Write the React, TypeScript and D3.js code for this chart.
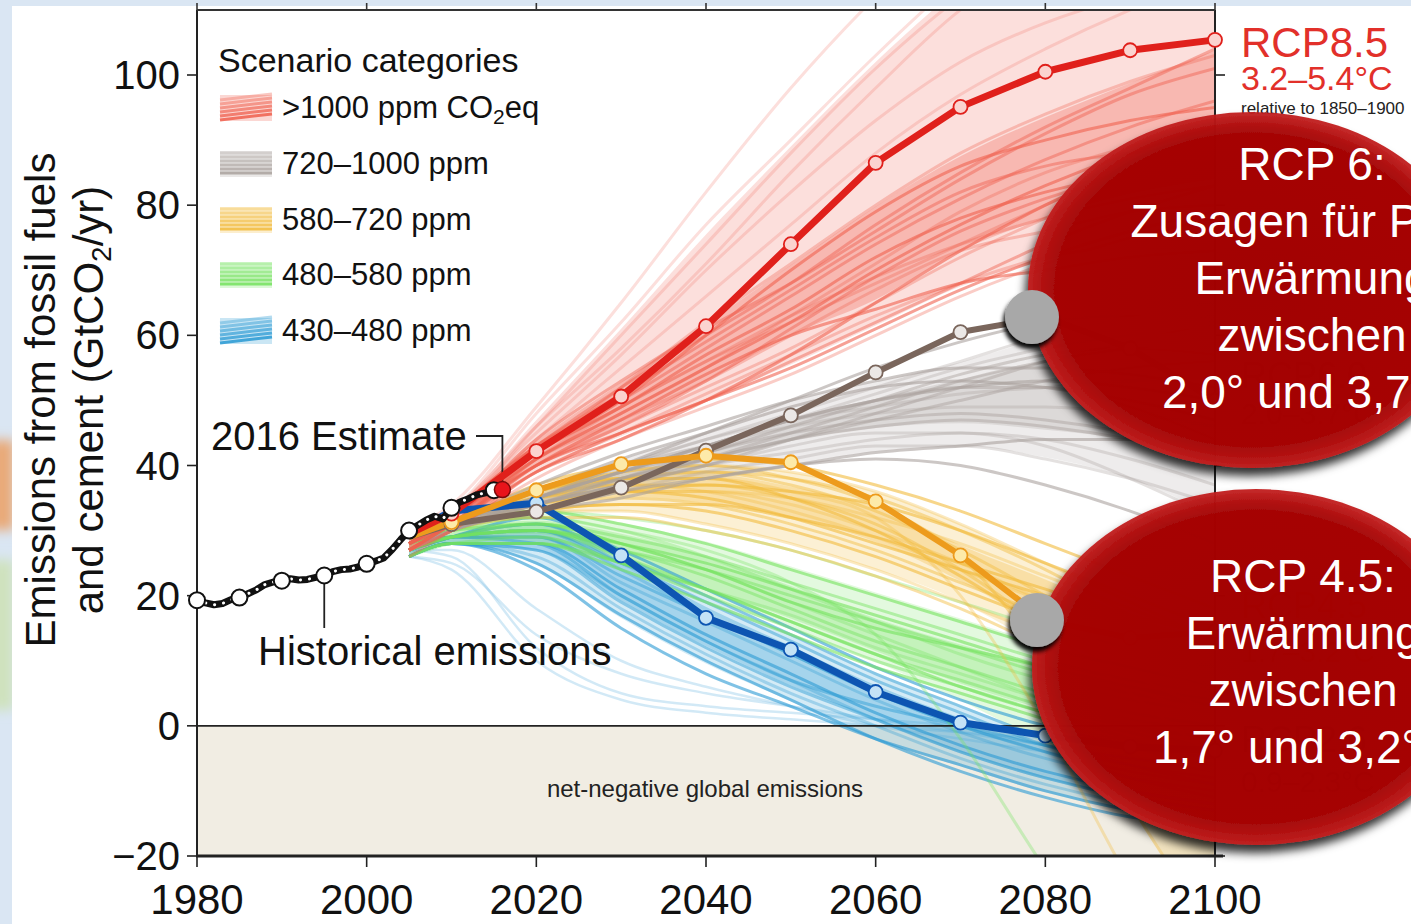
import React from 'react';
import * as d3 from 'd3';

const W = 1411;
const H = 924;
const FONT = '"Liberation Sans", Arial, Helvetica, sans-serif';

// ---------- data ----------
const xTicks = [1980, 2000, 2020, 2040, 2060, 2080, 2100];
const yTicks = [-20, 0, 20, 40, 60, 80, 100];

const histYears = [1980, 1981, 1982, 1983, 1984, 1985, 1986, 1987, 1988, 1989, 1990, 1991, 1992, 1993, 1994, 1995, 1996, 1997, 1998, 1999, 2000, 2001, 2002, 2003, 2004, 2005, 2006, 2007, 2008, 2009, 2010, 2011, 2012, 2013, 2014, 2015, 2016];
const histValues = [19.3, 18.9, 18.6, 18.8, 19.4, 19.7, 20.3, 20.9, 21.7, 22.1, 22.3, 22.6, 22.4, 22.5, 22.8, 23.1, 23.7, 24.0, 24.1, 24.4, 24.9, 25.3, 25.8, 27.1, 28.6, 30.0, 30.8, 31.6, 32.2, 31.8, 33.5, 34.4, 34.9, 35.5, 35.8, 36.2, 36.3];
const histMarkerYears = [1980, 1985, 1990, 1995, 2000, 2005, 2010, 2015];
const estimateYear = 2016;
const estimateValue = 36.3;

const scenYears = [2005, 2010, 2020, 2030, 2040, 2050, 2060, 2070, 2080, 2090, 2100];

// highlighted RCP pathways
const rcp85 = [29.5, 32.6, 42.2, 50.6, 61.4, 74.0, 86.5, 95.1, 100.5, 103.8, 105.4];
const rcp60 = [29.0, 31.0, 32.9, 36.6, 42.3, 47.7, 54.3, 60.5, 62.8, 58.0, 50.0];
const rcp45 = [29.0, 31.3, 36.2, 40.2, 41.5, 40.5, 34.5, 26.2, 16.2, 13.5, 14.5];
const rcp26 = [29.5, 33.0, 34.2, 26.2, 16.6, 11.7, 5.2, 0.5, -1.5, -3.2, -3.8];

// scenario ensemble runs (>1000 ppm)
const redRuns = [
  [29, 33, 44, 55, 66, 77, 88, 97, 104, 110, 115],
  [28, 32, 46, 60, 74, 88, 101, 112, 120, 126, 130],
  [30, 34, 49, 65, 82, 98, 112, 124, 132, 138, 142],
  [27, 31, 42, 52, 62, 71, 80, 88, 94, 99, 103],
  [29, 33, 43, 50, 58, 66, 74, 81, 87, 92, 96],
  [28, 32, 41, 48, 55, 62, 70, 77, 83, 88, 92],
  [27, 31, 40, 46, 52, 58, 65, 72, 78, 84, 90],
  [28, 31, 39, 45, 50, 56, 62, 68, 74, 79, 83],
  [29, 33, 42, 49, 57, 64, 72, 78, 82, 85, 87],
  [26, 30, 38, 44, 49, 54, 60, 66, 71, 75, 78],
  [28, 32, 44, 53, 61, 68, 76, 84, 91, 97, 101],
  [29, 33, 45, 57, 70, 82, 93, 102, 108, 112, 114],
  [27, 31, 41, 47, 53, 60, 67, 73, 76, 79, 80],
  [28, 32, 43, 51, 59, 67, 75, 82, 86, 88, 89],
  [28, 31, 40, 47, 54, 60, 64, 68, 70, 72, 73],
  [27, 31, 39, 45, 51, 57, 63, 68, 72, 74, 76],
  [29, 33, 48, 62, 77, 90, 103, 115, 125, 132, 136],
  [28, 32, 42, 50, 60, 70, 79, 86, 90, 93, 95],
  [27, 31, 41, 49, 56, 63, 69, 74, 78, 81, 83],
  [28, 32, 40, 46, 53, 61, 69, 76, 81, 85, 88],
  [27, 30, 39, 44, 50, 57, 65, 73, 80, 86, 91],
  [28, 31, 41, 48, 55, 63, 71, 79, 85, 89, 92],
  [29, 33, 43, 52, 60, 68, 77, 85, 92, 98, 104],
  [27, 31, 40, 45, 50, 55, 61, 67, 72, 76, 79],
  [28, 32, 42, 49, 56, 62, 68, 74, 80, 86, 92],
  [29, 33, 46, 58, 71, 85, 98, 110, 118, 124, 128],
];
// 720-1000 ppm
const grayRuns = [
  [28, 31, 35, 39, 43, 47, 51, 55, 58, 60, 61],
  [28, 31, 34, 37, 40, 44, 48, 52, 56, 59, 62],
  [27, 30, 35, 40, 45, 50, 55, 59, 62, 63, 63],
  [28, 31, 36, 40, 43, 46, 48, 49, 49, 48, 46],
  [27, 30, 34, 38, 41, 44, 46, 47, 46, 44, 41],
  [28, 31, 36, 41, 45, 49, 52, 53, 52, 50, 47],
  [27, 30, 33, 36, 39, 41, 43, 43, 41, 38, 34],
  [28, 31, 35, 39, 42, 46, 50, 54, 57, 58, 57],
  [28, 31, 37, 42, 46, 50, 53, 55, 55, 54, 52],
  [27, 30, 34, 37, 40, 42, 44, 45, 44, 41, 37],
  [28, 31, 35, 38, 41, 44, 47, 50, 53, 55, 56],
  [27, 30, 33, 35, 38, 40, 41, 40, 37, 33, 28],
  [28, 31, 36, 40, 44, 48, 52, 56, 60, 63, 65],
  [28, 31, 34, 38, 42, 45, 47, 48, 47, 45, 42],
  [27, 30, 35, 39, 43, 47, 50, 52, 53, 52, 50],
  [27, 30, 34, 37, 40, 43, 45, 45, 43, 38, 32],
  [28, 31, 35, 39, 43, 47, 50, 52, 52, 49, 44],
  [27, 30, 33, 36, 38, 40, 42, 43, 44, 44, 43],
  [28, 31, 36, 40, 44, 47, 49, 51, 52, 53, 54],
  [27, 30, 34, 37, 41, 45, 49, 53, 56, 58, 59],
];
// 580-720 ppm
const yellowRuns = [
  [28, 31, 36, 39, 40, 39, 36, 31, 25, 19, 13],
  [27, 30, 35, 38, 39, 37, 33, 27, 20, 13, 7],
  [28, 31, 37, 40, 41, 40, 37, 33, 28, 23, 18],
  [27, 30, 34, 36, 36, 34, 30, 25, 19, 13, 8],
  [28, 31, 35, 37, 37, 35, 31, 24, 15, 5, -5],
  [27, 30, 33, 34, 33, 30, 26, 21, 16, 11, 6],
  [28, 31, 36, 38, 38, 36, 32, 20, 0, -24, -45],
  [27, 30, 34, 35, 34, 31, 27, 22, 17, 12, 8],
  [28, 31, 35, 36, 35, 32, 28, 24, 20, 16, 12],
  [27, 30, 33, 33, 31, 28, 24, 19, 14, 10, 5],
  [28, 31, 36, 39, 40, 38, 34, 26, 10, -12, -32],
  [27, 30, 34, 36, 37, 36, 34, 30, 25, 20, 15],
  [28, 31, 35, 37, 36, 33, 29, 24, 19, 14, 10],
  [27, 30, 32, 32, 30, 27, 23, 18, 12, 6, 1],
  [28, 31, 36, 38, 38, 35, 30, 23, 15, 8, 2],
  [27, 30, 34, 36, 36, 35, 32, 28, 23, 18, 13],
  [28, 31, 36, 38, 39, 38, 35, 30, 24, 17, 10],
  [27, 30, 33, 34, 34, 32, 29, 25, 21, 17, 14],
];
// 480-580 ppm
const greenRuns = [
  [27, 30, 32, 30, 26, 21, 16, 11, 7, 4, 2],
  [27, 29, 30, 27, 23, 18, 13, 9, 5, 2, 0],
  [28, 30, 33, 31, 28, 24, 20, 16, 12, 9, 6],
  [27, 29, 31, 28, 24, 19, 14, 9, 4, 0, -4],
  [26, 28, 29, 25, 20, 15, 10, 6, 2, -2, -6],
  [27, 29, 30, 28, 25, 21, 17, 13, 9, 6, 3],
  [28, 30, 32, 30, 27, 22, 14, -2, -22, -40, -55],
  [27, 29, 31, 29, 26, 22, 18, 14, 10, 7, 5],
  [26, 28, 28, 24, 19, 14, 9, 5, 1, -3, -7],
  [27, 30, 33, 32, 30, 27, 23, 19, 15, 12, 9],
  [27, 29, 30, 26, 21, 16, 11, 7, 3, 0, -2],
  [28, 30, 31, 28, 24, 19, 15, 12, 9, 6, 4],
  [27, 29, 29, 25, 21, 17, 12, 8, 4, 1, -1],
  [27, 29, 30, 27, 24, 20, 16, 12, 8, 5, 3],
  [26, 28, 28, 25, 21, 16, 11, 6, 2, -1, -4],
];
// 430-480 ppm
const blueRuns = [
  [27, 29, 30, 24, 17, 11, 5, 0, -4, -7, -9],
  [27, 29, 31, 26, 20, 14, 8, 3, -2, -6, -9],
  [26, 28, 28, 21, 14, 8, 2, -3, -7, -10, -12],
  [27, 29, 29, 22, 16, 10, 4, -1, -5, -8, -10],
  [26, 28, 27, 19, 12, 6, 1, -4, -8, -11, -13],
  [27, 29, 32, 27, 21, 15, 9, 4, 0, -3, -5],
  [26, 28, 26, 18, 11, 5, 0, -5, -9, -12, -14],
  [27, 29, 30, 25, 19, 13, 7, 2, -3, -6, -8],
  [26, 28, 25, 17, 10, 4, -2, -7, -11, -14, -15],
  [27, 29, 31, 25, 18, 12, 6, 1, -3, -5, -6],
  [27, 29, 28, 20, 13, 7, 3, 0, -3, -5, -7],
  [26, 28, 24, 15, 8, 3, -2, -6, -10, -13, -15],
  [26, 28, 27, 20, 13, 7, 1, -4, -8, -11, -13],
  [27, 29, 29, 23, 17, 11, 5, 0, -4, -8, -11],
];
// faint early-decline runs (430-480 ppm)
const paleBlueRuns = [
  [27, 26, 12, 5, 3, 2, 1, 0, -1, -2, -3],
  [26, 24, 10, 4, 2, 1, 0, -1, -2, -3, -4],
  [26, 25, 14, 8, 5, 3, 1, -1, -3, -5, -6],
  [27, 27, 18, 10, 6, 3, 0, -2, -4, -6, -8],
];

const categories = ['>1000 ppm CO2eq', '720–1000 ppm', '580–720 ppm', '480–580 ppm', '430–480 ppm'];
const categoryColors = ['#f0604e', '#aaa29e', '#f2bb3c', '#74e25e', '#2a9ad4'];

// ---------- scales ----------
const x = d3.scaleLinear().domain([1980, 2100]).range([197, 1215]);
const y = d3.scaleLinear().domain([-20, 100]).range([856, 75]);
const PLOT_TOP = 10;

const runLine = d3
  .line<number>()
  .x((_, i) => x(scenYears[i]))
  .y((d) => y(d))
  .curve(d3.curveMonotoneX);

const straight = d3
  .line<number>()
  .x((_, i) => x(scenYears[i]))
  .y((d) => y(d));

const histLine = d3
  .line<number>()
  .x((_, i) => x(histYears[i]))
  .y((d) => y(d));

function band(runs: number[][], qa: number, qb: number) {
  const col = (i: number) => runs.map((r) => r[i]).sort(d3.ascending);
  const lo = scenYears.map((_, i) => d3.quantile(col(i), qa) as number);
  const hi = scenYears.map((_, i) => d3.quantile(col(i), qb) as number);
  return d3
    .area<number>()
    .x((_, i) => x(scenYears[i]))
    .y0((_, i) => y(lo[i]))
    .y1((_, i) => y(hi[i]))
    .curve(d3.curveMonotoneX)(scenYears);
}

const ensembles = [
  { runs: blueRuns, color: categoryColors[4], a: 0.2, b: 0.28 },
  { runs: greenRuns, color: categoryColors[3], a: 0.2, b: 0.28 },
  { runs: yellowRuns, color: categoryColors[2], a: 0.22, b: 0.3 },
  { runs: grayRuns, color: categoryColors[1], a: 0.2, b: 0.26 },
  { runs: redRuns, color: categoryColors[0], a: 0.2, b: 0.3 },
];

const pathways = [
  { v: rcp26, color: '#0d55b2', fill: '#c3e2f6', w: 7 },
  { v: rcp60, color: '#7a665c', fill: '#ebe8e6', w: 6 },
  { v: rcp45, color: '#ed9b1c', fill: '#fdeaa9', w: 6 },
  { v: rcp85, color: '#e0201b', fill: '#fbd3cf', w: 7 },
];

// runs well above the RCP8.5 marker line are drawn fainter
function runOpacity(run: number[], i: number, k: number) {
  const base = 0.32 + 0.14 * (i % 3);
  if (k === 4 && run[6] > rcp85[6]) return 0.2;
  return base;
}

export default function App() {
  const xa = x(1980);
  const xb = x(2100);
  const yb = y(-20);
  const legendY = [108, 164, 220, 275, 331];
  const legendBase = [118, 174, 230, 285, 341];
  const swatchLines = [-11, -7, -3, 1, 5, 9];

  return (
    <svg
      width={W}
      height={H}
      style={{ position: 'absolute', left: 0, top: 0, fontFamily: FONT }}
      xmlns="http://www.w3.org/2000/svg"
    >
      <defs>
        <clipPath id="plotClip">
          <rect x={xa} y={PLOT_TOP} width={xb - xa} height={yb - PLOT_TOP} />
        </clipPath>
        <filter id="ovalShadow" x="-20%" y="-20%" width="140%" height="150%">
          <feDropShadow dx="-3" dy="8" stdDeviation="5" floodColor="#000" floodOpacity="0.85" />
        </filter>
        <filter id="dotShadow" x="-50%" y="-50%" width="200%" height="200%">
          <feDropShadow dx="-2" dy="5" stdDeviation="2" floodColor="#000" floodOpacity="0.95" />
        </filter>
        <filter id="blur8">
          <feGaussianBlur stdDeviation="6" />
        </filter>
        <radialGradient id="ovalGrad" cx="50%" cy="50%" r="50%">
          <stop offset="0%" stopColor="#a40404" />
          <stop offset="88%" stopColor="#a80606" />
          <stop offset="100%" stopColor="#c21e1e" />
        </radialGradient>
      </defs>

      {/* page background */}
      <rect x={0} y={0} width={W} height={H} fill="#dae6f3" />
      <g filter="url(#blur8)">
        <rect x={-10} y={440} width={24} height={90} fill="#e9a977" />
        <rect x={-10} y={560} width={24} height={150} fill="#cfe2bd" />
      </g>
      <rect x={12} y={6} width={W - 12} height={H - 6} fill="#ffffff" />

      {/* negative region */}
      <rect x={xa} y={y(0)} width={xb - xa} height={yb - y(0)} fill="#f1ede3" />

      {/* ensembles */}
      <g clipPath="url(#plotClip)">
        {paleBlueRuns.map((r, i) => (
          <path key={'pb' + i} d={runLine(r) || ''} fill="none" stroke="#7fbfe6" strokeWidth={2.5} opacity={0.35} />
        ))}
        {ensembles.map((e, k) => (
          <g key={'b' + k}>
            <path d={band(e.runs, 0.06, 0.94) || ''} fill={e.color} opacity={e.a} />
            <path d={band(e.runs, 0.25, 0.75) || ''} fill={e.color} opacity={e.b} />
          </g>
        ))}
        {ensembles.map((e, k) => (
          <g key={'e' + k}>
            {e.runs.map((r, i) => (
              <path
                key={i}
                d={runLine(r) || ''}
                fill="none"
                stroke={e.color}
                strokeWidth={3}
                opacity={runOpacity(r, i, k)}
              />
            ))}
          </g>
        ))}
      </g>

      {/* zero line */}
      <line x1={xa} x2={xb} y1={y(0)} y2={y(0)} stroke="#222" strokeWidth={1.6} />

      {/* axes frame */}
      <line x1={xa} x2={xa} y1={PLOT_TOP} y2={yb} stroke="#222" strokeWidth={2} />
      <line x1={xb} x2={xb} y1={PLOT_TOP} y2={yb} stroke="#222" strokeWidth={2} />
      <line x1={xa} x2={xb} y1={PLOT_TOP} y2={PLOT_TOP} stroke="#333" strokeWidth={2} />
      <line x1={xa - 1} x2={xb + 8} y1={yb} y2={yb} stroke="#222" strokeWidth={3} />
      {yTicks.map((t) => (
        <g key={'yt' + t}>
          <line x1={xa - 10} x2={xa} y1={y(t)} y2={y(t)} stroke="#222" strokeWidth={1.6} />
          <line x1={xb} x2={xb + 10} y1={y(t)} y2={y(t)} stroke="#222" strokeWidth={1.6} />
          <text x={180} y={y(t) + 14} textAnchor="end" fontSize={40} fill="#111">
            {t < 0 ? '\u2212' + Math.abs(t) : t}
          </text>
        </g>
      ))}
      {xTicks.map((t) => (
        <g key={'xt' + t}>
          <line x1={x(t)} x2={x(t)} y1={yb} y2={yb + 11} stroke="#222" strokeWidth={1.6} />
          <line x1={x(t)} x2={x(t)} y1={PLOT_TOP - 7} y2={PLOT_TOP} stroke="#333" strokeWidth={1.6} />
          <text x={x(t)} y={914} textAnchor="middle" fontSize={42} fill="#111">
            {t}
          </text>
        </g>
      ))}

      {/* y axis title */}
      <text transform="translate(55,400) rotate(-90)" textAnchor="middle" fontSize={42} fill="#111">
        Emissions from fossil fuels
      </text>
      <text transform="translate(103,400) rotate(-90)" textAnchor="middle" fontSize={42} fill="#111">
        and cement (GtCO<tspan fontSize={28} dy={8}>2</tspan>
        <tspan dy={-8}>/yr)</tspan>
      </text>

      {/* legend */}
      <text x={218} y={72} fontSize={34} fill="#111">
        Scenario categories
      </text>
      {categories.map((c, i) => (
        <g key={'lg' + i}>
          <rect x={220} y={legendY[i] - 13} width={52} height={26} fill={categoryColors[i]} opacity={0.25} />
          {swatchLines.map((o, j) => (
            <line
              key={j}
              x1={220}
              x2={272}
              y1={legendY[i] + o + (i === 0 || i === 4 ? 3 : 0)}
              y2={legendY[i] + o - (i === 0 || i === 4 ? 3 : 0)}
              stroke={categoryColors[i]}
              strokeWidth={3}
              opacity={0.35 + 0.1 * j}
            />
          ))}
          <text x={282} y={legendBase[i]} fontSize={31} fill="#111">
            {i === 0 ? (
              <>
                {'>1000 ppm CO'}
                <tspan fontSize={21} dy={6}>
                  2
                </tspan>
                <tspan dy={-6}>eq</tspan>
              </>
            ) : (
              c
            )}
          </text>
        </g>
      ))}

      {/* annotations */}
      <text x={211} y={450} fontSize={40} fill="#111">
        2016 Estimate
      </text>
      <polyline
        points={`476,436 ${x(estimateYear)},436 ${x(estimateYear)},${y(estimateValue) - 7}`}
        fill="none"
        stroke="#222"
        strokeWidth={1.8}
      />
      <text x={258} y={665} fontSize={40} fill="#111">
        Historical emissions
      </text>
      <line x1={x(1995)} x2={x(1995)} y1={y(23.1) + 8} y2={628} stroke="#222" strokeWidth={1.8} />
      <text x={705} y={797} textAnchor="middle" fontSize={24} fill="#222">
        net-negative global emissions
      </text>

      {/* RCP pathways */}
      {pathways.map((p, k) => (
        <path key={'p' + k} d={straight(p.v) || ''} fill="none" stroke={p.color} strokeWidth={p.w} strokeLinejoin="round" />
      ))}
      {pathways.map((p, k) => (
        <g key={'pm' + k}>
          {p.v.map((v, i) =>
            i === 0 ? null : (
              <circle key={i} cx={x(scenYears[i])} cy={y(v)} r={7} fill={p.fill} stroke={p.color} strokeWidth={1.8} />
            )
          )}
        </g>
      ))}

      {/* historical */}
      <path d={histLine(histValues) || ''} fill="none" stroke="#111" strokeWidth={7} strokeLinejoin="round" />
      <path
        d={histLine(histValues) || ''}
        fill="none"
        stroke="#fff"
        strokeWidth={3}
        strokeLinecap="round"
        strokeDasharray="0.1 9"
      />
      {histMarkerYears.map((yr) => (
        <circle
          key={'hm' + yr}
          cx={x(yr)}
          cy={y(histValues[histYears.indexOf(yr)])}
          r={8}
          fill="#fff"
          stroke="#111"
          strokeWidth={2}
        />
      ))}
      <circle cx={x(estimateYear)} cy={y(estimateValue)} r={8} fill="#e8141b" stroke="#7a0a0a" strokeWidth={1.5} />

      {/* RCP labels at right */}
      <text x={1241} y={57} fontSize={42} fill="#e2302a">
        RCP8.5
      </text>
      <text x={1241} y={90} fontSize={34} fill="#e2302a">
        3.2–5.4°C
      </text>
      <text x={1241} y={114} fontSize={17} fill="#222">
        relative to 1850–1900
      </text>
      <g opacity={0.9}>
        <text x={1241} y={388} fontSize={36} fill="#7a665c">
          RCP6.0
        </text>
        <text x={1241} y={424} fontSize={30} fill="#7a665c">
          2.0–3.7°C
        </text>
        <text x={1241} y={618} fontSize={36} fill="#ed9b1c">
          RCP4.5
        </text>
        <text x={1241} y={662} fontSize={30} fill="#ed9b1c">
          1.7–3.2°C
        </text>
        <text x={1241} y={752} fontSize={36} fill="#0d55b2">
          RCP2.6
        </text>
        <text x={1241} y={792} fontSize={30} fill="#0d55b2">
          0.9–2.3°C
        </text>
      </g>

      {/* callout ovals */}
      <g filter="url(#ovalShadow)">
        <ellipse cx={1252} cy={290} rx={224} ry={178} fill="url(#ovalGrad)" opacity={0.95} />
      </g>
      <g filter="url(#ovalShadow)">
        <ellipse cx={1256} cy={667} rx={224} ry={178} fill="url(#ovalGrad)" opacity={0.95} />
      </g>
      <g fill="#fff" fontSize={46} textAnchor="middle">
        <text x={1312} y={180}>RCP 6:</text>
        <text x={1312} y={237}>Zusagen für Paris</text>
        <text x={1312} y={294}>Erwärmung</text>
        <text x={1312} y={351}>zwischen</text>
        <text x={1312} y={408}>2,0° und 3,7°C</text>
        <text x={1303} y={592}>RCP 4.5:</text>
        <text x={1303} y={649}>Erwärmung</text>
        <text x={1303} y={706}>zwischen</text>
        <text x={1303} y={763}>1,7° und 3,2°C</text>
      </g>
      <circle cx={1032} cy={317} r={27} fill="#a8a8a8" filter="url(#dotShadow)" />
      <circle cx={1037} cy={620} r={27} fill="#a8a8a8" filter="url(#dotShadow)" />
    </svg>
  );
}
